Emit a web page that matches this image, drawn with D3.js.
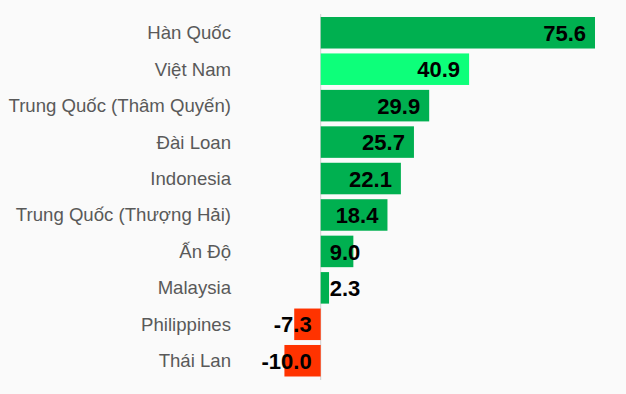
<!DOCTYPE html>
<html>
<head>
<meta charset="utf-8">
<script src="https://cdn.jsdelivr.net/npm/d3@7"></script>
<style>
  body { margin: 0; background: #fafafa; }
  svg { display: block; }
</style>
</head>
<body>
<svg width="626" height="394"></svg>
<script>
// Dữ liệu
const categories = ["Hàn Quốc", "Việt Nam", "Trung Quốc (Thâm Quyến)", "Đài Loan", "Indonesia",
  "Trung Quốc (Thượng Hải)", "Ấn Độ", "Malaysia", "Philippines", "Thái Lan"];
const values = [75.6, 40.9, 29.9, 25.7, 22.1, 18.4, 9.0, 2.3, -7.3, -10.0];
const highlight = "Việt Nam";

const svg = d3.select("svg");

const x = d3.scaleLinear().domain([0, 75.6]).range([320.7, 595]);
const y = d3.scaleBand().domain(categories).range([17, 376.5]).paddingInner(0.135).paddingOuter(0);

const data = categories.map((c, i) => ({ name: c, value: values[i] }));

// Đường trục 0
svg.append("line")
  .attr("x1", x(0)).attr("x2", x(0))
  .attr("y1", 14).attr("y2", 380)
  .attr("stroke", "#d0d0d0")
  .attr("stroke-width", 1);

// Các thanh
svg.selectAll(".bar")
  .data(data)
  .enter()
  .append("rect")
  .attr("class", "bar")
  .attr("x", d => Math.min(x(0), x(d.value)))
  .attr("y", d => y(d.name))
  .attr("width", d => Math.abs(x(d.value) - x(0)))
  .attr("height", y.bandwidth())
  .attr("fill", d => d.value < 0 ? "#ff3300" : (d.name === highlight ? "#0dff7a" : "#00b050"));

// Nhãn danh mục
svg.selectAll(".cat")
  .data(data)
  .enter()
  .append("text")
  .attr("class", "cat")
  .attr("x", 231)
  .attr("y", d => y(d.name) + y.bandwidth() / 2)
  .attr("dy", ".35em")
  .text(d => d.name)
  .style("font-family", "Liberation Sans, Arial, sans-serif")
  .style("font-size", "18.6px")
  .style("text-anchor", "end")
  .style("fill", "#595959");

// Nhãn giá trị
svg.selectAll(".val")
  .data(data)
  .enter()
  .append("text")
  .attr("class", "val")
  .attr("x", d => {
    if (d.value < 0) return x(0) - 9;
    return (x(d.value) - x(0)) > 60 ? x(d.value) - 9 : x(0) + 9;
  })
  .attr("y", d => y(d.name) + y.bandwidth() / 2)
  .attr("dy", ".37em")
  .text(d => d.value.toFixed(1))
  .style("font-family", "Liberation Sans, Arial, sans-serif")
  .style("font-size", "22px")
  .style("font-weight", "bold")
  .style("text-anchor", d => (d.value >= 0 && (x(d.value) - x(0)) <= 60) ? "start" : "end")
  .style("fill", "#000");
</script>
</body>
</html>
